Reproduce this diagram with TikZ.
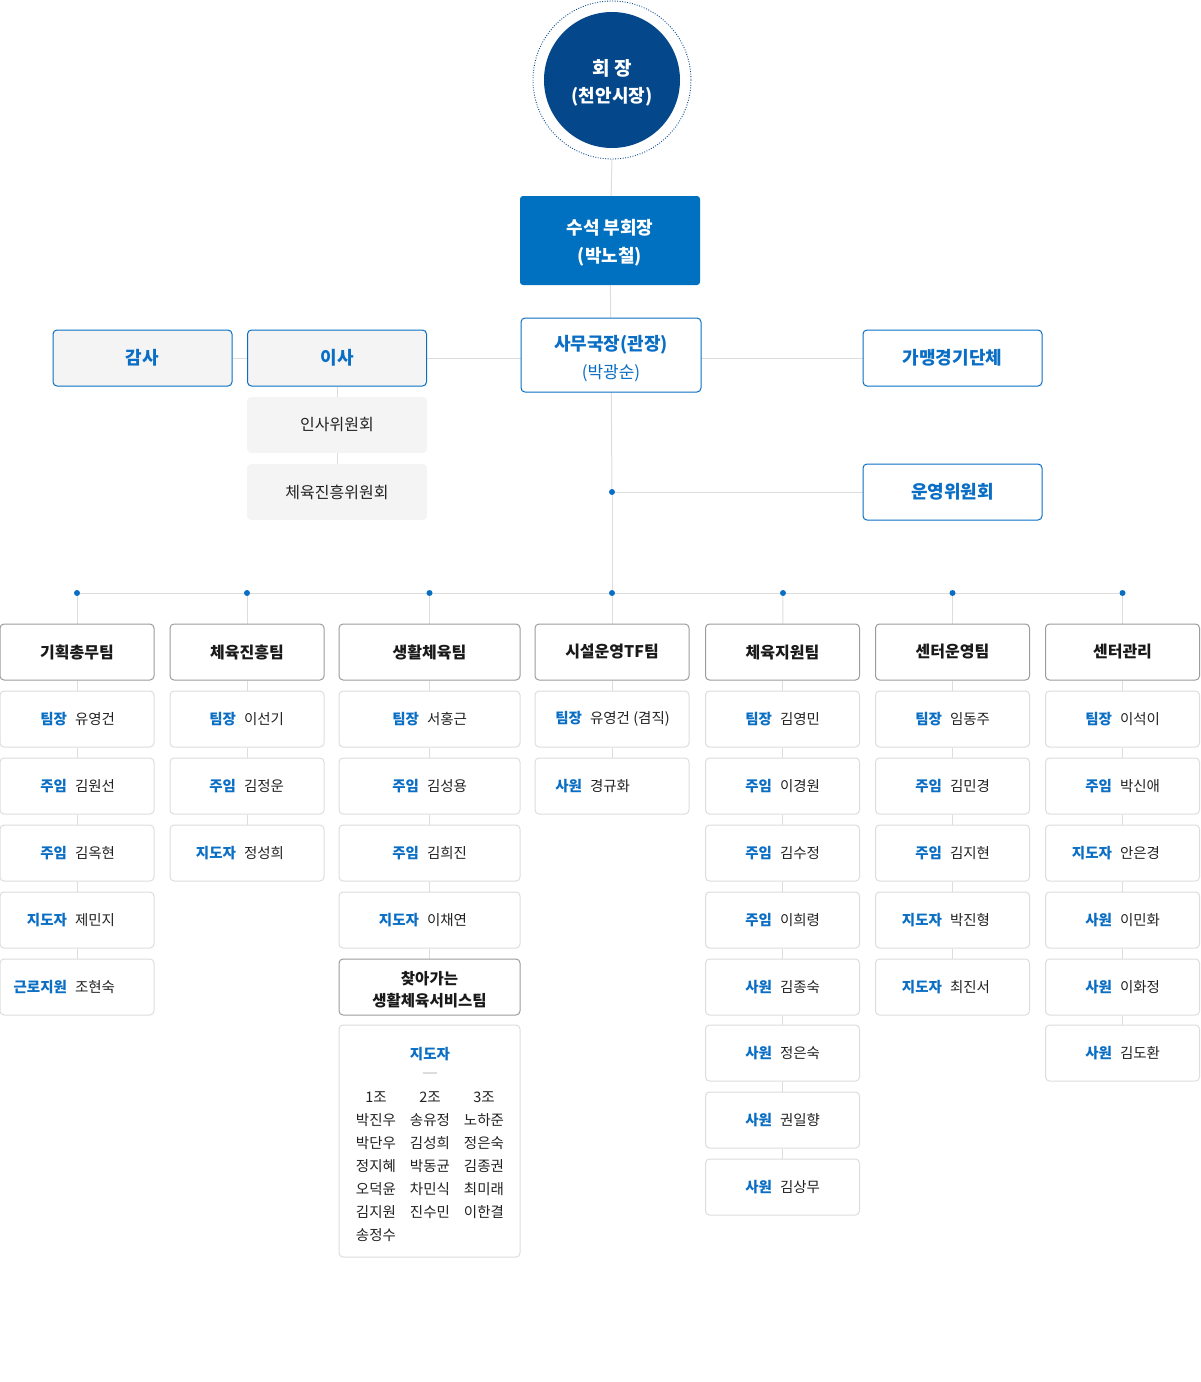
\documentclass[tikz,border=0pt]{standalone}
\usepackage{fontspec}
\setmainfont{Noto Sans CJK KR}
\usetikzlibrary{backgrounds}
\definecolor{kblue}{HTML}{0A6EC4}
\definecolor{boxblue}{HTML}{0070C0}
\definecolor{circblue}{HTML}{04478A}
\definecolor{linegray}{HTML}{DDDDDD}
\definecolor{lightfill}{HTML}{F4F4F4}
\definecolor{headborder}{HTML}{9C9C9C}
\definecolor{txt}{HTML}{222222}
\newlength\nmw
\newcommand\mb[2]{\makebox[0pt][r]{\textcolor{kblue}{\bfseries #1}\hspace{8pt}}\makebox[\nmw][l]{#2}}
\begin{document}
\begin{tikzpicture}[x=1pt,y=-1pt,
 conn/.style={draw=linegray, line width=1pt},
 member/.style={draw=linegray, line width=1pt, fill=white, rounded corners=4pt, minimum width=154, minimum height=56, inner sep=0pt, font=\fontsize{14.5}{17}\selectfont, text=txt},
 teamhead/.style={draw=headborder, line width=1pt, fill=white, rounded corners=4pt, minimum width=154, minimum height=56, inner sep=0pt, font=\bfseries\fontsize{16}{19}\selectfont, text=black!90},
 topbox/.style={draw=kblue, line width=1pt, fill=white, rounded corners=4pt, minimum width=179, minimum height=56, inner sep=0pt, font=\bfseries\fontsize{18}{22}\selectfont, text=kblue},
 topgray/.style={topbox, fill=lightfill},
 committee/.style={fill=lightfill, rounded corners=4pt, minimum width=180, minimum height=56, inner sep=0pt, font=\fontsize{16}{19}\selectfont, text=txt},
 dotmark/.style={circle, fill=kblue, inner sep=0pt, minimum size=6},
 plain/.style={inner sep=0pt, font=\fontsize{14.5}{17}\selectfont, text=txt}
]
\useasboundingbox (0,0) rectangle (1201,1382);

% chair
\node[circle, fill=circblue, minimum size=136, inner sep=0pt] (chair) at (612,80) {};
\node[inner sep=0pt, text=white, align=center, font=\bfseries\fontsize{19}{28}\selectfont] (chairtxt) at (612,83) {회 장\\[-1pt]{\fontsize{18}{28}\selectfont(천안시장)}};
\draw[circblue, line width=0.9pt, dash pattern=on 0.9pt off 1.6pt] (chair.center) circle (79);
\coordinate (chairbot) at (612,159);

% vice chair
\node[fill=boxblue, rounded corners=3pt, minimum width=180, minimum height=89, inner sep=0pt] (vice) at (610,240.5) {};
\node[inner sep=0pt, text=white, align=center, font=\bfseries\fontsize{18}{28}\selectfont] (vicetxt) at (610,242.5) {수석 부회장\\(박노철)};

% secretary general
\node[topbox, minimum width=180, minimum height=74] (samu) at (611,355) {};
\node[inner sep=0pt, text=kblue, align=center, font=\bfseries\fontsize{18}{28}\selectfont] (samutxt) at (611,359) {사무국장(관장)\\{\mdseries\fontsize{17}{28}\selectfont(박광순)}};

\node[topgray] (gamsa) at (142.5,358) {감사};
\node[topgray] (isa) at (337,358) {이사};
\node[committee] (insa) at (337,425) {인사위원회};
\node[committee] (cheyuk) at (337,492) {체육진흥위원회};
\node[topbox] (gm) at (952.5,358) {가맹경기단체};
\node[topbox] (uy) at (952.5,492) {운영위원회};

\node[dotmark] (dm) at (612,492) {};
\node[dotmark] (dmid) at (612,593) {};

% team dots
\node[dotmark] (d1) at (77,593) {};
\node[dotmark] (d2) at (247,593) {};
\node[dotmark] (d3) at (429.5,593) {};
\node[dotmark] (d5) at (783,593) {};
\node[dotmark] (d6) at (952.5,593) {};
\node[dotmark] (d7) at (1122.5,593) {};

% column 1
\setlength\nmw{4pt}
\node[teamhead] (t1) at (77,652) {기획총무팀};
\node[member] (t1a) at (77,719) {\mb{팀장}{유영건}};
\node[member] (t1b) at (77,786) {\mb{주임}{김원선}};
\node[member] (t1c) at (77,853) {\mb{주임}{김옥현}};
\node[member] (t1d) at (77,920) {\mb{지도자}{제민지}};
\node[member] (t1e) at (77,987) {\mb{근로지원}{조현숙}};

% column 2
\setlength\nmw{6pt}
\node[teamhead] (t2) at (247,652) {체육진흥팀};
\node[member] (t2a) at (247,719) {\mb{팀장}{이선기}};
\node[member] (t2b) at (247,786) {\mb{주임}{김정운}};
\node[member] (t2c) at (247,853) {\mb{지도자}{정성희}};

% column 3
\setlength\nmw{5pt}
\node[teamhead, minimum width=181] (t3) at (429.5,652) {생활체육팀};
\node[member, minimum width=181] (t3a) at (429.5,719) {\mb{팀장}{서홍근}};
\node[member, minimum width=181] (t3b) at (429.5,786) {\mb{주임}{김성용}};
\node[member, minimum width=181] (t3c) at (429.5,853) {\mb{주임}{김희진}};
\node[member, minimum width=181] (t3d) at (429.5,920) {\mb{지도자}{이채연}};
\node[teamhead, minimum width=181] (t3e) at (429.5,987) {};
\node[inner sep=0pt, align=center, font=\bfseries\fontsize{15.5}{22}\selectfont, text=black!90] (t3etxt) at (429.5,990) {찾아가는\\생활체육서비스팀};
\node[member, minimum width=181, minimum height=232] (big) at (429.5,1141) {};
\node[plain, font=\bfseries\fontsize{14.5}{17}\selectfont, text=kblue] (jd) at (430,1054) {지도자};
\draw[linegray, line width=1.3pt] (423,1073) -- (437,1073);
\foreach \a/\b/\c [count=\i from 0] in {1조/2조/3조, 박진우/송유정/노하준, 박단우/김성희/정은숙, 정지혜/박동균/김종권, 오덕윤/차민식/최미래, 김지원/진수민/이한결}{
  \node[plain] (ga\i) at (376,{1097+23*\i}) {\a};
  \node[plain] (gb\i) at (430,{1097+23*\i}) {\b};
  \node[plain] (gc\i) at (484,{1097+23*\i}) {\c};
}
\node[plain] (ga6) at (376,1235) {송정수};

% column 4
\setlength\nmw{44pt}
\node[teamhead] (t4) at (612,652) {시설운영TF팀};
\node[member] (t4a) at (612,719) {\mb{팀장}{유영건 (겸직)}};
\node[member] (t4b) at (612,786) {\mb{사원}{경규화}};

% column 5
\setlength\nmw{5pt}
\node[teamhead] (t5) at (782.5,652) {체육지원팀};
\node[member] (t5a) at (782.5,719) {\mb{팀장}{김영민}};
\node[member] (t5b) at (782.5,786) {\mb{주임}{이경원}};
\node[member] (t5c) at (782.5,853) {\mb{주임}{김수정}};
\node[member] (t5d) at (782.5,920) {\mb{주임}{이희령}};
\node[member] (t5e) at (782.5,987) {\mb{사원}{김종숙}};
\node[member] (t5f) at (782.5,1053) {\mb{사원}{정은숙}};
\node[member] (t5g) at (782.5,1120) {\mb{사원}{권일향}};
\node[member] (t5h) at (782.5,1187) {\mb{사원}{김상무}};

% column 6
\node[teamhead] (t6) at (952.5,652) {센터운영팀};
\node[member] (t6a) at (952.5,719) {\mb{팀장}{임동주}};
\node[member] (t6b) at (952.5,786) {\mb{주임}{김민경}};
\node[member] (t6c) at (952.5,853) {\mb{주임}{김지현}};
\node[member] (t6d) at (952.5,920) {\mb{지도자}{박진형}};
\node[member] (t6e) at (952.5,987) {\mb{지도자}{최진서}};

% column 7
\node[teamhead] (t7) at (1122.5,652) {센터관리};
\node[member] (t7a) at (1122.5,719) {\mb{팀장}{이석이}};
\node[member] (t7b) at (1122.5,786) {\mb{주임}{박신애}};
\node[member] (t7c) at (1122.5,853) {\mb{지도자}{안은경}};
\node[member] (t7d) at (1122.5,920) {\mb{사원}{이민화}};
\node[member] (t7e) at (1122.5,987) {\mb{사원}{이화정}};
\node[member] (t7f) at (1122.5,1053) {\mb{사원}{김도환}};

\begin{scope}[on background layer]
\draw[conn] (chairbot) -- (vice);
\draw[conn] (vice) -- (samu);
\draw[conn] (samu) -- (dm);
\draw[conn] (dm) -- (dmid);
\draw[conn] (dm) -- (uy);
\draw[conn] (gamsa) -- (isa);
\draw[conn] (isa) -- (isa -| samu);
\draw[conn] (gm) -- (gm -| samu);
\draw[conn] (isa) -- (insa);
\draw[conn] (insa) -- (cheyuk);
\draw[conn] (d1) -- (d7);
\foreach \d/\t in {d1/t1,d2/t2,d3/t3,dmid/t4,d5/t5,d6/t6,d7/t7}{\draw[conn] (\d) -- (\t);}
\foreach \p/\q in {t1/t1a,t1a/t1b,t1b/t1c,t1c/t1d,t1d/t1e,
  t2/t2a,t2a/t2b,t2b/t2c,
  t3/t3a,t3a/t3b,t3b/t3c,t3c/t3d,t3d/t3e,
  t4/t4a,t4a/t4b,
  t5/t5a,t5a/t5b,t5b/t5c,t5c/t5d,t5d/t5e,t5e/t5f,t5f/t5g,t5g/t5h,
  t6/t6a,t6a/t6b,t6b/t6c,t6c/t6d,t6d/t6e,
  t7/t7a,t7a/t7b,t7b/t7c,t7c/t7d,t7d/t7e,t7e/t7f}{\draw[conn] (\p) -- (\q);}
\end{scope}
\end{tikzpicture}
\end{document}
